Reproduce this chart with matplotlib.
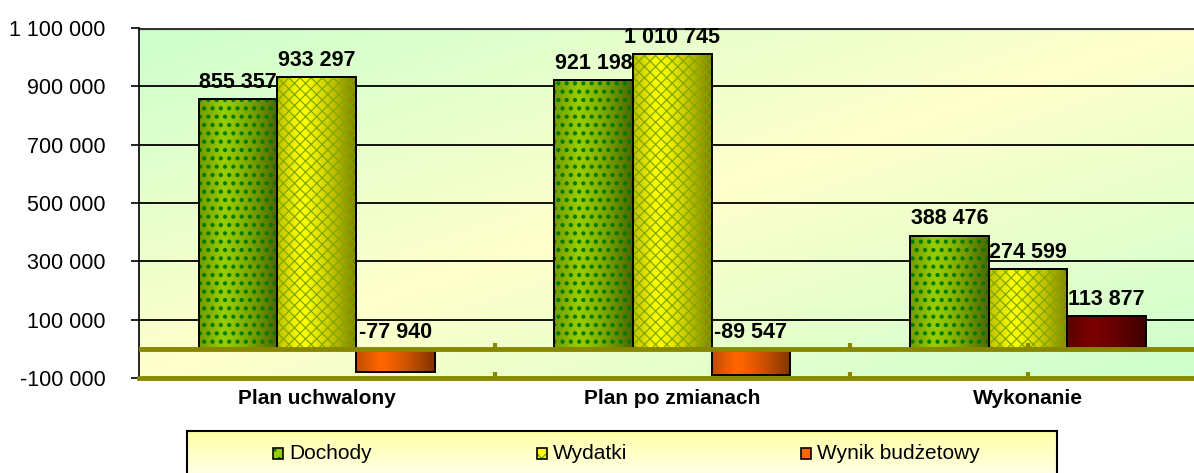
import numpy as np
import matplotlib
matplotlib.use('Agg')
import matplotlib.pyplot as plt
from matplotlib.patches import Rectangle

categories = ['Plan uchwalony', 'Plan po zmianach', 'Wykonanie']
series_names = ['Dochody', 'Wydatki', 'Wynik budżetowy']
dochody = [855357, 921198, 388476]
wydatki = [933297, 1010745, 274599]
wynik = [-77940, -89547, 113877]
yticks = [-100000, 100000, 300000, 500000, 700000, 900000, 1100000]

OLIVE = '#878700'


def fmt(v):
    s = '{:,}'.format(abs(v)).replace(',', ' ')
    return ('-' if v < 0 else '') + s


def diag_gradient(h, w, c_a, c_b):
    # green -> yellow -> green across the diagonal
    yy, xx = np.mgrid[0:h, 0:w]
    t = xx / (w - 1) + yy / (h - 1)
    t = 1 - np.abs(t - 1)
    a = np.array(c_a) / 255.0
    b = np.array(c_b) / 255.0
    return a[None, None, :] * (1 - t[..., None]) + b[None, None, :] * t[..., None]


def shade(ax, x0, x1, y0, y1, strength=0.5):
    u = np.linspace(0, 1, 60)
    a = np.where(u < 0.3, (0.3 - u) / 0.3 * 0.25, ((u - 0.3) / 0.7) ** 1.3 * strength)
    img = np.zeros((1, 60, 4))
    img[..., 3] = a
    ax.imshow(img, extent=(x0, x1, y0, y1), aspect='auto', zorder=3,
              interpolation='bilinear')


def draw_bar(ax, x, w, v, face, hatch, hcolor, hlw=1.0):
    y0, y1 = min(0, v), max(0, v)
    ax.bar(x, v, w, color=face, edgecolor='none', zorder=2)
    shade(ax, x - w / 2, x + w / 2, y0, y1)
    if hatch:
        with plt.rc_context({'hatch.linewidth': hlw}):
            ax.bar(x, v, w, fill=False, hatch=hatch, edgecolor=hcolor, linewidth=0, zorder=4)
    ax.bar(x, v, w, fill=False, edgecolor='black', linewidth=1.4, zorder=5)


plt.rcParams['font.family'] = ['Liberation Sans', 'DejaVu Sans']

fig = plt.figure(figsize=(11.94, 4.73), dpi=100)
ax = fig.add_axes([139 / 1194, 1 - 378 / 473, 1 - 139 / 1194, 350 / 473])

bg = diag_gradient(200, 400, (204, 255, 204), (255, 255, 204))
ax.imshow(bg, extent=(0, 1, 0, 1), transform=ax.transAxes, aspect='auto', zorder=0)

for g in yticks[1:-1]:
    ax.axhline(g, color='black', lw=1.3, zorder=1)
ax.axhline(yticks[-1], color='#333333', lw=3, zorder=1)

w = 0.221
xs = np.arange(len(categories))
for i in xs:
    draw_bar(ax, i - w, w, dochody[i], '#99cc00', '..', '#007a00', 1.8)
    draw_bar(ax, i, w, wydatki[i], '#ffff00', 'xxx', '#7fa800', 0.9)
    c = '#ff6600' if wynik[i] < 0 else '#7a0000'
    draw_bar(ax, i + w, w, wynik[i], c, None, None)
    for off, v in zip((-w, 0, w), (dochody[i], wydatki[i], wynik[i])):
        ax.annotate(fmt(v), (i + off, max(v, 0)), xytext=(0, 8), textcoords='offset points',
                    ha='center', va='baseline', fontsize=15.5, fontweight='bold', zorder=6)

ax.axhline(0, color=OLIVE, lw=3.5, zorder=6)
ax.axhline(-100000, color=OLIVE, lw=3.5, zorder=6, clip_on=False)
for tx in (0.5, 1.5, 2.0):
    for base in (0, -100000):
        ax.plot([tx, tx], [base, base + 20000], color=OLIVE, lw=3,
                zorder=6, solid_capstyle='butt')

ax.set_xlim(-0.5, 2.467)
ax.set_ylim(-100000, 1100000)
ax.set_yticks(yticks)
ax.set_yticklabels([fmt(v) for v in yticks], fontsize=15.5)
ax.tick_params(axis='y', length=6, width=1.2, pad=18)
ax.set_xticks(xs)
ax.set_xticklabels(categories, fontsize=15, fontweight='bold')
ax.tick_params(axis='x', length=0, pad=8)
for s in ('top', 'right', 'bottom'):
    ax.spines[s].set_visible(False)
ax.spines['left'].set_linewidth(1.2)

# legend box
lax = fig.add_axes([187 / 1194, -0.02, (1057 - 187) / 1194, 42 / 473 + 0.02])
lg = np.linspace(0, 1, 50)[:, None, None]
top = np.array([255, 255, 165]) / 255.0
bot = np.array([255, 255, 240]) / 255.0
lax.imshow(top * (1 - lg) + bot * lg * np.ones((1, 2, 1)), aspect='auto',
           extent=(0, 1, 0, 1))
lax.set_xlim(0, 1)
lax.set_ylim(0, 1)
lax.set_xticks([])
lax.set_yticks([])
for s in lax.spines.values():
    s.set_linewidth(1.5)

styles = [('#99cc00', '..', '#007a00'), ('#ffff00', 'xx', '#7fa800'), ('#ff6600', None, None)]
mx = [273, 537, 801]
for name, (face, h, hc), m in zip(series_names, styles, mx):
    y = 1 - 459 / 473
    box = (m / 1194, y)
    bw, bh = 10 / 1194, 11 / 473
    fig.patches.append(Rectangle(box, bw, bh, transform=fig.transFigure,
                                 facecolor=face, edgecolor='none'))
    if h:
        fig.patches.append(Rectangle(box, bw, bh, transform=fig.transFigure,
                                     fill=False, hatch=h, edgecolor=hc, lw=0))
    fig.patches.append(Rectangle(box, bw, bh, transform=fig.transFigure,
                                 fill=False, edgecolor='black', lw=1.2))
    fig.text((m + 16) / 1194, y + 5.5 / 473, name, fontsize=15, va='center', ha='left')

fig.savefig('out.png', dpi=100)
